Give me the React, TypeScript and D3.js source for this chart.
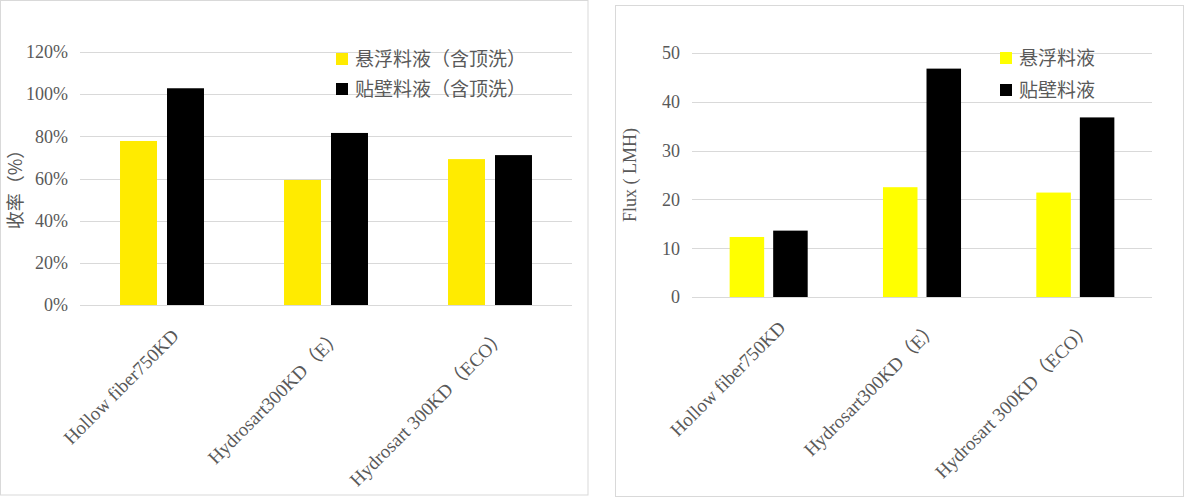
import { useEffect, useRef } from 'react';
import * as d3 from 'd3';

const CATEGORIES = ['Hollow fiber750KD', 'Hydrosart300KD（E）', 'Hydrosart 300KD（ECO）'];

const RECOVERY_SERIES = ['悬浮料液（含顶洗）', '贴壁料液（含顶洗）'];
const RECOVERY_SUSPENDED = [0.778, 0.593, 0.692];
const RECOVERY_ADHERED = [1.028, 0.816, 0.711];
const RECOVERY_TICKS = [0, 0.2, 0.4, 0.6, 0.8, 1.0, 1.2];

const FLUX_SERIES = ['悬浮料液', '贴壁料液'];
const FLUX_SUSPENDED = [12.3, 22.5, 21.4];
const FLUX_ADHERED = [13.6, 46.8, 36.8];
const FLUX_TICKS = [0, 10, 20, 30, 40, 50];

const TEXT = '#595959';
const GRID = '#d9d9d9';
const FONT = '"Liberation Serif", "Times New Roman", "Noto Sans CJK SC", serif';
const CJK = '"Noto Sans CJK SC", "Liberation Serif", sans-serif';

interface PanelSpec {
  box: [number, number, number, number];
  plot: { left: number; right: number; top: number; bottom: number };
  yMax: number;
  ticks: number[];
  tickFormat: (v: number) => string;
  seriesNames: string[];
  values: number[][];
  colors: string[];
  outerPad: number;
  innerPad: number;
  yTitle: string;
  yTitleFont: string;
  yTitlePos: [number, number];
  legend: { x: number; y: number; gap: number };
}

function drawPanel(root: d3.Selection<SVGGElement, unknown, null, undefined>, spec: PanelSpec) {
  const [bx, by, bw, bh] = spec.box;
  root.append('rect')
    .attr('x', bx).attr('y', by).attr('width', bw).attr('height', bh)
    .attr('fill', '#fff').attr('stroke', GRID).attr('stroke-width', 1);

  const { left, right, top, bottom } = spec.plot;
  const y = d3.scaleLinear().domain([0, spec.yMax]).range([bottom, top]);
  const x0 = d3.scaleBand<string>().domain(CATEGORIES).range([left, right])
    .paddingInner(spec.outerPad).paddingOuter(spec.outerPad / 2);
  const x1 = d3.scaleBand<number>().domain(spec.seriesNames.map((_, i) => i))
    .range([0, x0.bandwidth()]).paddingInner(spec.innerPad);

  // gridlines
  root.append('g').selectAll('line').data(spec.ticks).join('line')
    .attr('x1', left).attr('x2', right)
    .attr('y1', (d) => Math.round(y(d)) + 0.5).attr('y2', (d) => Math.round(y(d)) + 0.5)
    .attr('stroke', GRID).attr('stroke-width', 1);

  // tick labels
  root.append('g').selectAll('text').data(spec.ticks).join('text')
    .attr('x', left - 12).attr('y', (d) => y(d))
    .attr('dy', '0.35em')
    .attr('text-anchor', 'end')
    .attr('font-family', FONT).attr('font-size', 18).attr('fill', TEXT)
    .text((d) => spec.tickFormat(d));

  // bars
  spec.values.forEach((vals, si) => {
    root.append('g').selectAll('rect').data(vals).join('rect')
      .attr('x', (_, i) => (x0(CATEGORIES[i]) ?? 0) + (x1(si) ?? 0))
      .attr('y', (d) => y(d))
      .attr('width', x1.bandwidth())
      .attr('height', (d) => bottom - y(d))
      .attr('fill', spec.colors[si]);
  });

  // category labels, rotated
  root.append('g').selectAll('text').data(CATEGORIES).join('text')
    .attr('transform', (d) => `translate(${(x0(d) ?? 0) + x0.bandwidth() / 2 + 18},${bottom + 32}) rotate(-45)`)
    .attr('text-anchor', 'end')
    .attr('font-family', FONT).attr('font-size', 19).attr('fill', TEXT)
    .text((d) => d);

  // y title
  root.append('text')
    .attr('transform', `translate(${spec.yTitlePos[0]},${spec.yTitlePos[1]}) rotate(-90)`)
    .attr('text-anchor', 'middle').attr('dy', '0.35em')
    .attr('font-family', spec.yTitleFont).attr('font-size', 18).attr('fill', TEXT)
    .text(spec.yTitle);

  // legend
  const lg = root.append('g');
  spec.seriesNames.forEach((name, i) => {
    const ly = spec.legend.y + i * spec.legend.gap;
    lg.append('rect')
      .attr('x', spec.legend.x).attr('y', ly - 6).attr('width', 12).attr('height', 12)
      .attr('fill', spec.colors[i]);
    lg.append('text')
      .attr('x', spec.legend.x + 19).attr('y', ly).attr('dy', '0.35em')
      .attr('font-family', CJK).attr('font-size', 19).attr('fill', TEXT)
      .text(name);
  });
}

export default function App() {
  const svgRef = useRef<SVGSVGElement>(null);

  useEffect(() => {
    if (!svgRef.current) return;
    const svg = d3.select(svgRef.current);
    svg.selectAll('*').remove();

    drawPanel(svg.append('g'), {
      box: [0.5, 0.5, 587.5, 494.5],
      plot: { left: 80, right: 572, top: 52, bottom: 305 },
      yMax: 1.2,
      ticks: RECOVERY_TICKS,
      tickFormat: d3.format('.0%'),
      seriesNames: RECOVERY_SERIES,
      values: [RECOVERY_SUSPENDED, RECOVERY_ADHERED],
      colors: ['#ffeb00', '#000000'],
      outerPad: 0.488,
      innerPad: 0.213,
      yTitle: '收率（%）',
      yTitleFont: CJK,
      yTitlePos: [16, 185],
      legend: { x: 336, y: 59, gap: 30 },
    });

    drawPanel(svg.append('g'), {
      box: [615.5, 5.5, 568, 491],
      plot: { left: 692, right: 1152, top: 53, bottom: 297 },
      yMax: 50,
      ticks: FLUX_TICKS,
      tickFormat: d3.format('d'),
      seriesNames: FLUX_SERIES,
      values: [FLUX_SUSPENDED, FLUX_ADHERED],
      colors: ['#ffff00', '#000000'],
      outerPad: 0.491,
      innerPad: 0.207,
      yTitle: 'Flux ( LMH)',
      yTitleFont: FONT,
      yTitlePos: [630, 175],
      legend: { x: 1000, y: 58, gap: 32 },
    });
  }, []);

  return (
    <svg
      ref={svgRef}
      width={1185}
      height={498}
      viewBox="0 0 1185 498"
      style={{ position: 'fixed', left: 0, top: 0, background: '#fff' }}
    />
  );
}
